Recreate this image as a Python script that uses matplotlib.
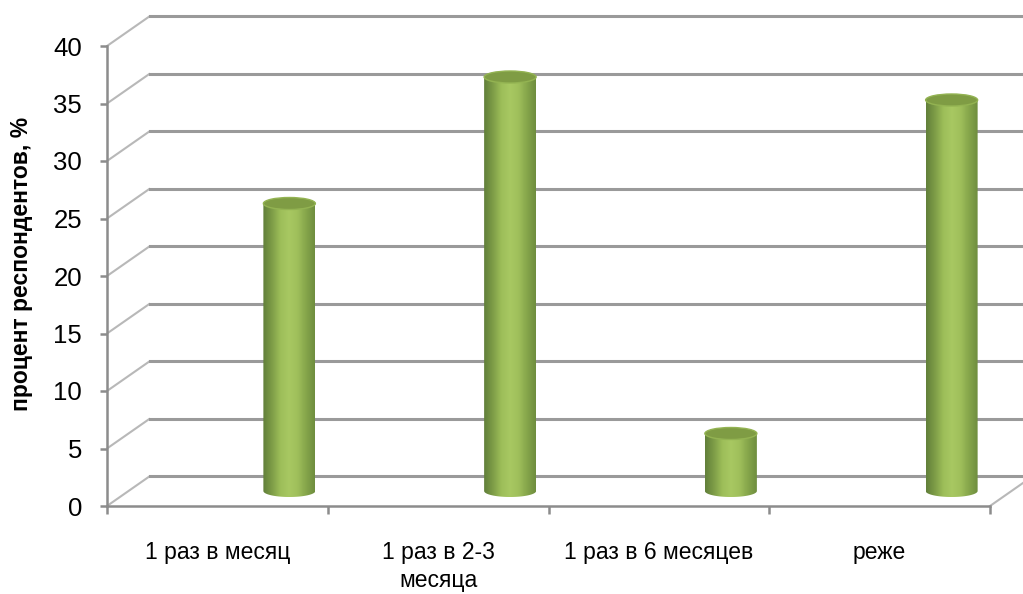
import numpy as np
import matplotlib.pyplot as plt
from matplotlib.patches import Ellipse, PathPatch
from matplotlib.path import Path
from matplotlib.colors import LinearSegmentedColormap

categories = ['1 раз в месяц', '1 раз в 2-3\nмесяца', '1 раз в 6 месяцев', 'реже']
values = [25, 36, 5, 34]
y_ticks = [0, 5, 10, 15, 20, 25, 30, 35, 40]
y_label = 'процент респондентов, %'

plt.rcParams['font.family'] = ['Liberation Sans', 'DejaVu Sans']

W, H = 1023, 594
fig = plt.figure(figsize=(W / 100, H / 100), dpi=100)
fig.patch.set_facecolor('white')

# front plane of the 3-D box, in pixels
ax_l, ax_r, ax_b, ax_t = 107, 990, 506, 46
ax = fig.add_axes([ax_l / W, (H - ax_b) / H, (ax_r - ax_l) / W, (ax_b - ax_t) / H])
ax.set_xlim(0, len(categories))
ax.set_ylim(0, 40)
ax.set_facecolor('none')

px_x = len(categories) / (ax_r - ax_l)   # data per pixel
px_y = 40 / (ax_b - ax_t)

# === depth of the box ===
depth_x, depth_y = 43 * px_x, 30 * px_y
x_end = (1035 - ax_l) * px_x
grid_col = '#9a9a9a'
axis_col = '#8c8c8c'

for v in y_ticks:
    ax.plot([0, depth_x], [v, v + depth_y], color='#b8b8b8', lw=1.5,
            clip_on=False, zorder=1, solid_capstyle='butt')
    ax.plot([depth_x, x_end], [v + depth_y, v + depth_y], color=grid_col,
            lw=2.2, clip_on=False, zorder=1)
ax.plot([len(categories), len(categories) + depth_x], [0, depth_y],
        color='#b8b8b8', lw=1.5, clip_on=False, zorder=1)

# === axes ===
for s in ['top', 'right']:
    ax.spines[s].set_visible(False)
for s in ['left', 'bottom']:
    ax.spines[s].set_color(axis_col)
    ax.spines[s].set_linewidth(1.8)
    ax.spines[s].set_zorder(2)

ax.set_yticks(y_ticks)
ax.set_yticklabels([str(t) for t in y_ticks])
ax.tick_params(axis='y', length=5, width=1.8, color=axis_col, pad=13,
               labelsize=18.5, labelcolor='black')

ax.set_xticks(range(len(categories) + 1))
ax.set_xticklabels([])
ax.set_xticks([i + 0.5 for i in range(len(categories))], minor=True)
ax.set_xticklabels(categories, minor=True, fontsize=16.5, linespacing=1.3,
                   va='top')
ax.tick_params(axis='x', which='major', length=6, width=1.8, color=axis_col)
ax.tick_params(axis='x', which='minor', length=0, pad=25)

fig.text(22 / W, 1 - 264 / H, y_label, rotation=90, ha='center', va='center',
         fontsize=16.5, fontweight='bold')

# === cylinders ===
cyl = LinearSegmentedColormap.from_list(
    'cyl', ['#62803a', '#7e9d47', '#9dbe59', '#a8c862', '#9fbf5b', '#86a64b', '#6f8e3f'])
grad = np.linspace(0, 1, 64).reshape(1, -1)

bar_w = 52 * px_x
shift = 72 * px_x
base = depth_y / 2
ell_h = 12 * px_y

for i, v in enumerate(values):
    cx = i + 0.5 + shift
    x0, x1 = cx - bar_w / 2, cx + bar_w / 2
    top = base + v
    th = np.linspace(np.pi, 2 * np.pi, 40)
    verts = [(x0, top)] + [(cx + bar_w / 2 * np.cos(t), base + ell_h / 2 * np.sin(t)) for t in th] \
        + [(x1, top), (x0, top)]
    codes = [Path.MOVETO] + [Path.LINETO] * (len(verts) - 2) + [Path.CLOSEPOLY]
    clip = PathPatch(Path(verts, codes), facecolor='none', edgecolor='none',
                     transform=ax.transData)
    ax.add_patch(clip)
    im = ax.imshow(grad, extent=[x0, x1, base - ell_h / 2, top], aspect='auto',
                   cmap=cyl, zorder=3, interpolation='bilinear')
    im.set_clip_path(clip)
    ax.add_patch(Ellipse((cx, top), bar_w, ell_h, facecolor='#7f9c44',
                         edgecolor='#93b352', lw=1.0, zorder=4))

ax.set_xlim(0, len(categories))
ax.set_ylim(0, 40)

fig.savefig('out.png', dpi=100, facecolor='white')
